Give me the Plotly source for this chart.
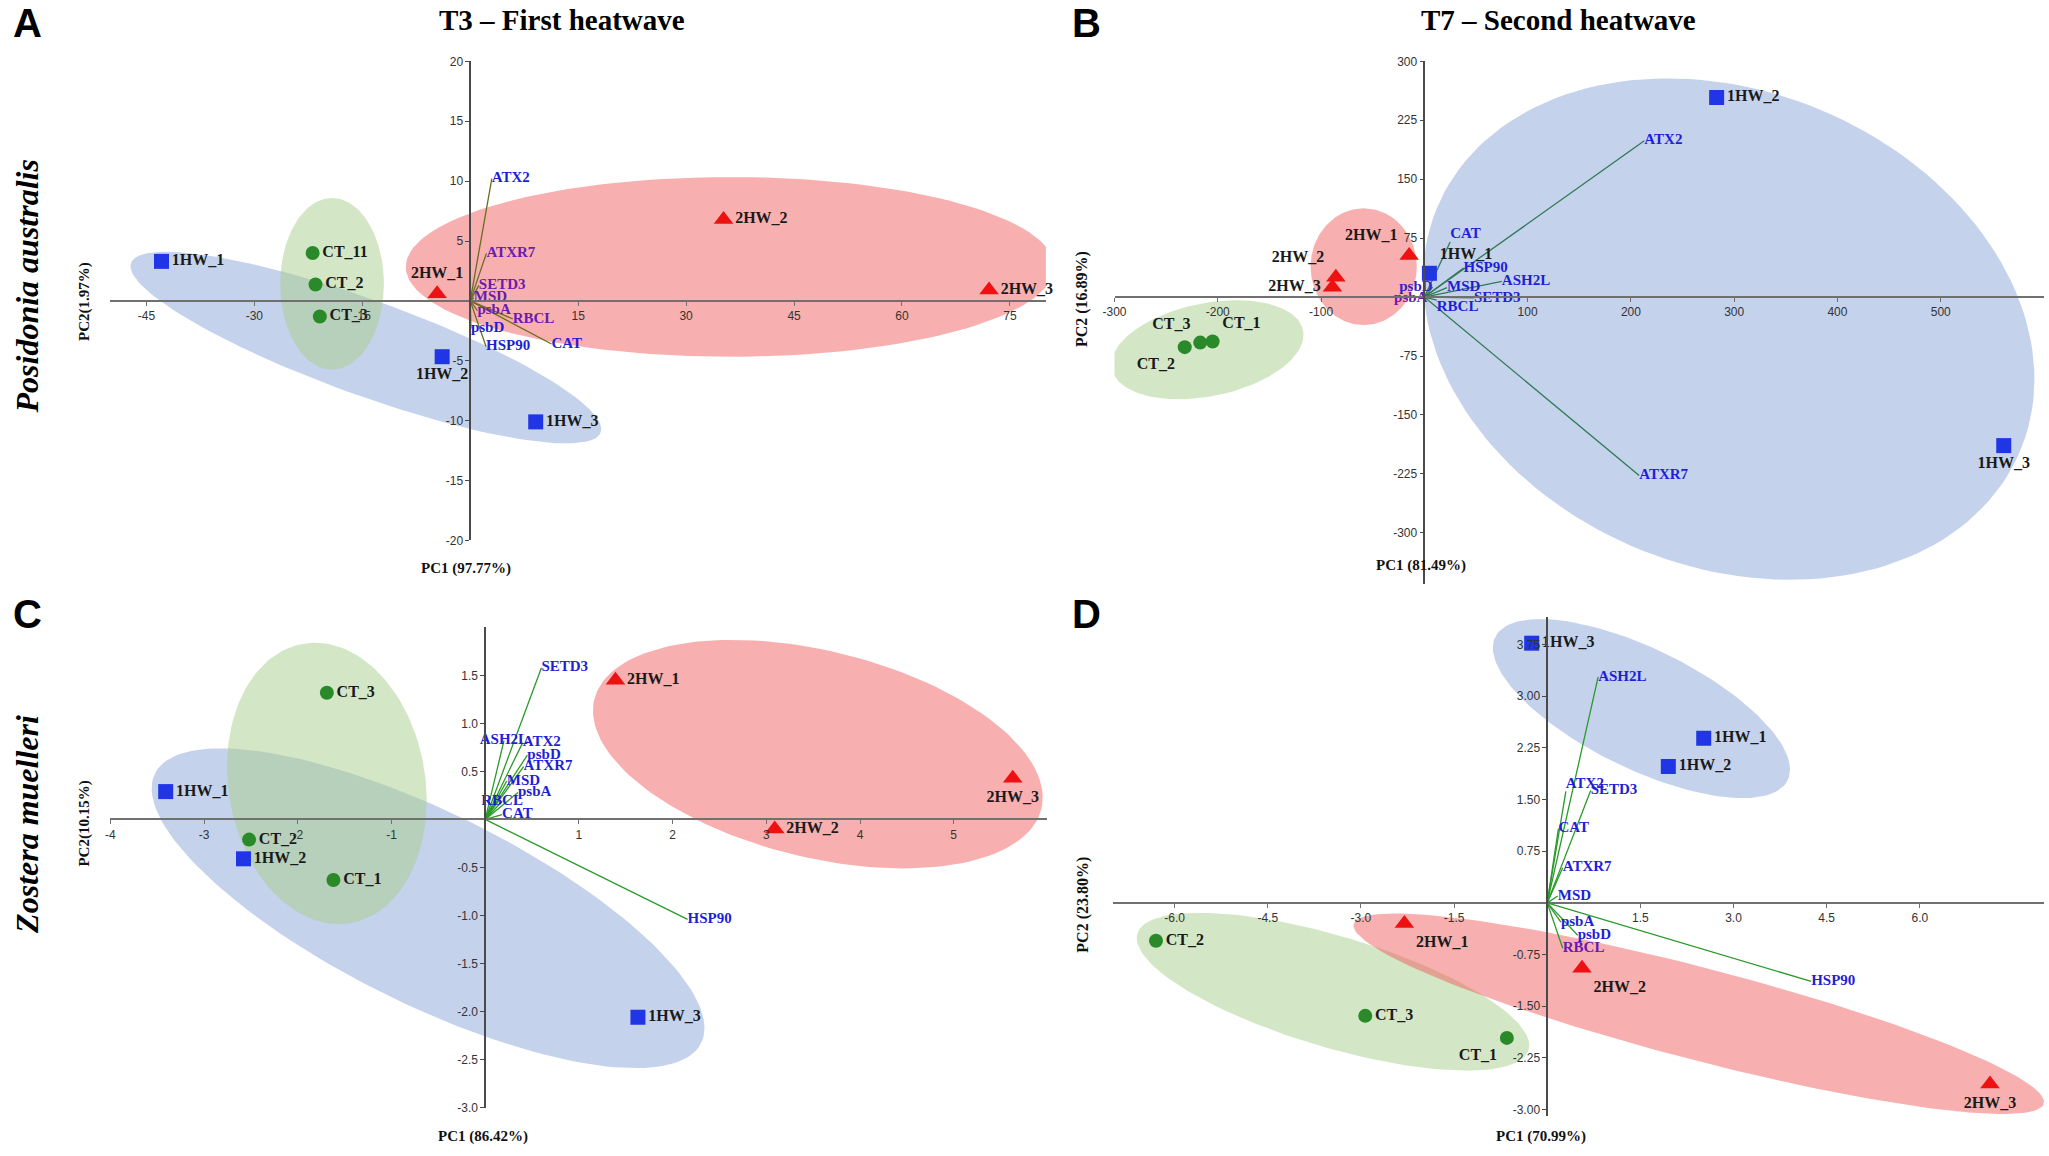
import numpy as np
import plotly.graph_objects as go

W, H = 2049, 1156

# ---- data ----
groups = ["1HW", "1HW", "1HW", "2HW", "2HW", "2HW", "CT", "CT", "CT"]
samples = ["1HW_1", "1HW_2", "1HW_3", "2HW_1", "2HW_2", "2HW_3", "CT_1", "CT_2", "CT_3"]
a_samples = ["1HW_1", "1HW_2", "1HW_3", "2HW_1", "2HW_2", "2HW_3", "CT_11", "CT_2", "CT_3"]

# A: Posidonia australis, T3
a_pc1 = [-42.9, -3.9, 9.1, -4.6, 35.2, 72.1, -21.9, -21.5, -20.9]
a_pc2 = [3.3, -4.66, -10.1, 0.6, 6.8, 0.9, 4.0, 1.37, -1.3]
a_genes = ["ATX2", "ATXR7", "SETD3", "MSD", "psbA", "RBCL", "psbD", "HSP90", "CAT"]
a_load1 = [3.0, 2.25, 1.2, 0.5, 1.0, 5.9, 0.1, 2.2, 11.3]
a_load2 = [10.2, 3.97, 1.3, 0.27, -0.82, -1.5, -2.3, -3.8, -3.6]

# B: Posidonia australis, T7
b_pc1 = [4.9, 283, 561, -14.7, -85.7, -89, -205, -232, -217]
b_pc2 = [30.3, 254, -189, 53, 25.2, 12.6, -56.6, -63.7, -57.9]
b_genes = ["ATX2", "ATXR7", "CAT", "HSP90", "ASH2L", "MSD", "SETD3", "RBCL", "psbD", "psbA"]
b_load1 = [213, 208, 25, 38, 75, 22, 48, 12, 8, 3]
b_load2 = [199, -227, 70, 37, 20, 12, -1, -4, 12.6, -1.7]

# C: Zostera muelleri, T3
c_pc1 = [-3.41, -2.58, 1.63, 1.39, 3.09, 5.63, -1.62, -2.52, -1.69]
c_pc2 = [0.29, -0.41, -2.06, 1.45, -0.10, 0.43, -0.63, -0.21, 1.32]
c_genes = ["SETD3", "ASH2L", "ATX2", "psbD", "ATXR7", "MSD", "psbA", "RBCL", "CAT", "HSP90"]
c_load1 = [0.60, 0.20, 0.40, 0.45, 0.41, 0.23, 0.35, 0.18, 0.18, 2.16]
c_load2 = [1.58, 0.82, 0.80, 0.67, 0.55, 0.40, 0.28, 0.19, 0.05, -1.04]

# D: Zostera muelleri, T7
d_pc1 = [2.52, 1.95, -0.25, -2.30, 0.56, 7.13, -0.65, -6.30, -2.93]
d_pc2 = [2.39, 1.98, 3.77, -0.30, -0.95, -2.63, -1.96, -0.55, -1.64]
d_genes = ["ASH2L", "ATX2", "SETD3", "CAT", "ATXR7", "MSD", "psbA", "psbD", "RBCL", "HSP90"]
d_load1 = [0.82, 0.30, 0.70, 0.18, 0.25, 0.17, 0.22, 0.49, 0.25, 4.25]
d_load2 = [3.28, 1.62, 1.63, 1.08, 0.51, 0.10, -0.28, -0.47, -0.66, -1.14]

# confidence ellipses: centre, half extents, tilt (order 1HW, CT, 2HW)
a_ell = [(-14.5, -3.9, 32.7, 8.0, -0.85), (-19.2, 1.43, 7.2, 7.16, 0.0), (36.1, 2.84, 45.05, 7.5, 0.0)]
b_ell = [(294.7, -40.7, 296, 319, -0.2), (-210, -67, 93, 63, 0.3), (-58.7, 38.7, 51.4, 74.2, 0.0)]
c_ell = [(-0.61, -0.925, 2.95, 1.665, -0.75), (-1.69, 0.375, 1.065, 1.465, -0.12), (3.55, 0.68, 2.4, 1.19, -0.38)]
d_ell = [(1.517, 2.82, 2.393, 1.30, -0.68), (-3.45, -1.29, 3.16, 1.145, -0.68), (2.44, -1.61, 5.56, 1.455, -0.88)]

BLUE_T, PURP_T = "#1f1fd6", "#6a1bb0"

panels = [
    dict(pc1=a_pc1, pc2=a_pc2, names=a_samples, genes=a_genes, l1=a_load1, l2=a_load2, ell=a_ell,
         spos=["middle right", "bottom center", "middle right", "top center", "middle right", "middle right",
               "middle right", "middle right", "middle right"],
         gpos=["middle right"] * 9,
         gcol=[BLUE_T, PURP_T, PURP_T, PURP_T, PURP_T, PURP_T, BLUE_T, BLUE_T, BLUE_T],
         lcol="#6b6d20",
         xr=[-50, 80], yr=[-20, 20], xpx=[99, 1040], ypx=[55, 540],
         xt=[-45, -30, -15, 15, 30, 45, 60, 75], yt=[-20, -15, -10, -5, 5, 10, 15, 20], xf="{:g}", yf="{:g}"),
    dict(pc1=b_pc1, pc2=b_pc2, names=samples, genes=b_genes, l1=b_load1, l2=b_load2, ell=b_ell,
         spos=["top right", "middle right", "bottom center", "top left", "top left", "middle left",
               "top right", "bottom left", "top left"],
         gpos=["middle right", "middle right", "top right", "middle right", "middle right", "middle right",
               "middle right", "bottom right", "middle left", "middle left"],
         gcol=[BLUE_T] * 8 + ["#3a1fc8", PURP_T],
         lcol="#2f7a55",
         xr=[-300, 600], yr=[-365, 300], xpx=[1109, 2044], ypx=[55, 584],
         xt=[-300, -200, -100, 100, 200, 300, 400, 500], yt=[-300, -225, -150, -75, 75, 150, 225, 300],
         xf="{:g}", yf="{:g}"),
    dict(pc1=c_pc1, pc2=c_pc2, names=samples, genes=c_genes, l1=c_load1, l2=c_load2, ell=c_ell,
         spos=["middle right"] * 5 + ["bottom center"] + ["middle right"] * 3,
         gpos=["middle right", "middle center", "middle right", "middle right", "middle right", "middle right",
               "middle right", "middle center", "middle right", "middle right"],
         gcol=[BLUE_T] * 10,
         lcol="#2a9a2a",
         xr=[-4, 6], yr=[-3, 2], xpx=[99, 1041.5], ypx=[628, 1114],
         xt=[-4, -3, -2, -1, 1, 2, 3, 4, 5], yt=[-3, -2.5, -2, -1.5, -1, -0.5, 0.5, 1, 1.5],
         xf="{:g}", yf="{:.1f}"),
    dict(pc1=d_pc1, pc2=d_pc2, names=samples, genes=d_genes, l1=d_load1, l2=d_load2, ell=d_ell,
         spos=["middle right", "middle right", "middle right", "bottom right", "bottom right", "bottom center",
               "bottom left", "middle right", "middle right"],
         gpos=["middle right", "top right"] + ["middle right"] * 8,
         gcol=[BLUE_T] * 8 + [PURP_T, BLUE_T],
         lcol="#2a9a2a",
         xr=[-7, 8], yr=[-3.1, 4.15], xpx=[1107, 2044], ypx=[617.5, 1123],
         xt=[-6, -4.5, -3, -1.5, 1.5, 3, 4.5, 6], yt=[-3, -2.25, -1.5, -0.75, 0.75, 1.5, 2.25, 3, 3.75],
         xf="{:.1f}", yf="{:.2f}"),
]

ell_fill = ["rgba(140,165,218,0.5)", "rgba(168,205,140,0.5)", "rgba(240,88,88,0.48)"]
marker_style = {
    "1HW": dict(symbol="square", color="#1f35e6", size=15),
    "2HW": dict(symbol="triangle-up", color="#ee1111", size=17),
    "CT": dict(symbol="circle", color="#2a8a2a", size=14),
}
SERIF = "Liberation Serif, Times New Roman, serif"
SANS = "Liberation Sans, Arial, sans-serif"


def ellipse(cx, cy, rx, ry, rho, n=160):
    t = np.linspace(0, 2 * np.pi, n)
    return cx + rx * np.cos(t), cy + ry * (rho * np.cos(t) - np.sqrt(1 - rho ** 2) * np.sin(t))


fig = go.Figure()
layout = {}

for i, p in enumerate(panels, start=1):
    xa = "x" if i == 1 else f"x{i}"
    ya = "y" if i == 1 else f"y{i}"

    for (cx, cy, rx, ry, rho), col in zip(p["ell"], ell_fill):
        ex, ey = ellipse(cx, cy, rx, ry, rho)
        fig.add_trace(go.Scatter(x=ex, y=ey, mode="lines", fill="toself", fillcolor=col,
                                 line=dict(width=0), hoverinfo="skip", xaxis=xa, yaxis=ya))

    # loading vectors
    lx, ly = [], []
    for a, b in zip(p["l1"], p["l2"]):
        lx += [0, a, None]
        ly += [0, b, None]
    fig.add_trace(go.Scatter(x=lx, y=ly, mode="lines", line=dict(color=p["lcol"], width=1.3),
                             hoverinfo="skip", xaxis=xa, yaxis=ya))
    fig.add_trace(go.Scatter(x=p["l1"], y=p["l2"], mode="text", text=p["genes"], textposition=p["gpos"],
                             textfont=dict(family=SERIF, size=15, color=p["gcol"], weight="bold"),
                             cliponaxis=False, hoverinfo="skip", xaxis=xa, yaxis=ya))

    # samples
    for g in ["1HW", "2HW", "CT"]:
        idx = [k for k, gg in enumerate(groups) if gg == g]
        fig.add_trace(go.Scatter(
            x=[p["pc1"][k] for k in idx], y=[p["pc2"][k] for k in idx],
            mode="markers+text", text=[p["names"][k] for k in idx],
            textposition=[p["spos"][k] for k in idx],
            textfont=dict(family=SERIF, size=16, color="#1a1a1a", weight="bold"),
            marker=marker_style[g], cliponaxis=False, hoverinfo="skip", xaxis=xa, yaxis=ya))

    xdom = [p["xpx"][0] / W, p["xpx"][1] / W]
    ydom = [1 - p["ypx"][1] / H, 1 - p["ypx"][0] / H]
    xpos = ydom[0] + (0 - p["yr"][0]) / (p["yr"][1] - p["yr"][0]) * (ydom[1] - ydom[0])
    ypos = xdom[0] + (0 - p["xr"][0]) / (p["xr"][1] - p["xr"][0]) * (xdom[1] - xdom[0])

    layout["xaxis" if i == 1 else f"xaxis{i}"] = dict(
        domain=xdom, range=p["xr"], anchor="free", position=xpos,
        showline=True, linecolor="#707070", linewidth=2, ticks="outside", ticklen=4, tickcolor="#707070",
        tickvals=p["xt"], ticktext=[p["xf"].format(v) for v in p["xt"]],
        tickfont=dict(family=SANS, size=12, color="#333333"), showgrid=False, zeroline=False)
    layout["yaxis" if i == 1 else f"yaxis{i}"] = dict(
        domain=ydom, range=p["yr"], anchor="free", position=ypos,
        showline=True, linecolor="#4a4a4a", linewidth=1.5, ticks="outside", ticklen=4, tickcolor="#4a4a4a",
        tickvals=p["yt"], ticktext=[p["yf"].format(v) for v in p["yt"]],
        tickfont=dict(family=SANS, size=12, color="#333333"), showgrid=False, zeroline=False)


def ann(text, px, py, size, family=SERIF, angle=0, color="#111111"):
    return dict(text=text, x=px / W, y=1 - py / H, xref="paper", yref="paper", showarrow=False,
                xanchor="center", yanchor="middle", textangle=angle,
                font=dict(family=family, size=size, color=color))


LETTER = "Liberation Sans Narrow, Liberation Sans, Arial, sans-serif"
annotations = [
    ann("<b>A</b>", 16, 16, 40, LETTER, color="#000"),
    ann("<b>B</b>", 1081, 16, 40, LETTER, color="#000"),
    ann("<b>C</b>", 16, 614, 40, LETTER, color="#000"),
    ann("<b>D</b>", 1081, 614, 40, LETTER, color="#000"),
    ann("<b>T3 – First heatwave</b>", 553, 13, 29, color="#000"),
    ann("<b>T7 – Second heatwave</b>", 1556, 13, 29, color="#000"),
    ann("<b><i>Posidonia australis</i></b>", 15, 283, 32, angle=-90, color="#000"),
    ann("<b><i>Zostera muelleri</i></b>", 15, 827, 32, angle=-90, color="#000"),
    ann("<b>PC2(1.97%)</b>", 73, 298, 15, angle=-90),
    ann("<b>PC2 (16.89%)</b>", 1077, 296, 16, angle=-90),
    ann("<b>PC2(10.15%)</b>", 73, 827, 15, angle=-90),
    ann("<b>PC2 (23.80%)</b>", 1077, 909, 16, angle=-90),
    ann("<b>PC1 (97.77%)</b>", 457, 568, 15),
    ann("<b>PC1 (81.49%)</b>", 1417, 565, 15),
    ann("<b>PC1 (86.42%)</b>", 474, 1143, 15),
    ann("<b>PC1 (70.99%)</b>", 1538, 1143, 15),
]

fig.update_layout(
    width=W, height=H, margin=dict(l=0, r=0, t=0, b=0),
    paper_bgcolor="white", plot_bgcolor="white", showlegend=False,
    annotations=annotations, **layout)

fig.write_html("out.html", config={"displayModeBar": False},
               post_script="document.body.style.margin='0';document.body.style.overflow='hidden';")
